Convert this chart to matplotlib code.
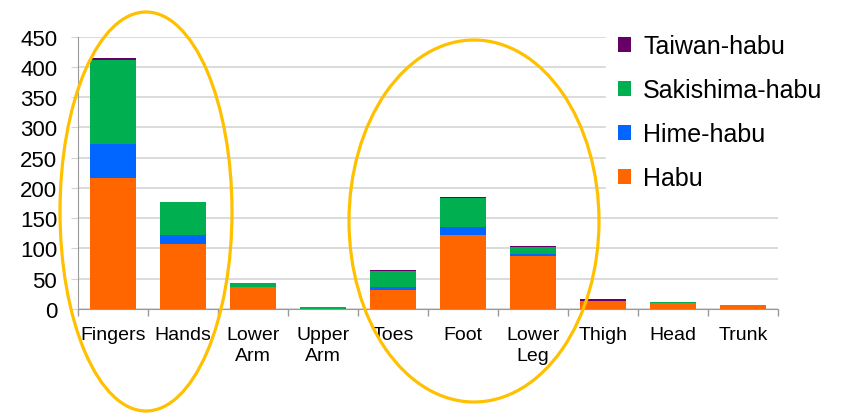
import matplotlib.pyplot as plt
import numpy as np
from matplotlib.patches import Ellipse

plt.rcParams['font.family'] = ['Liberation Sans', 'DejaVu Sans']

# bite sites and counts per snake species
sites = ["Fingers", "Hands", "Lower\nArm", "Upper\nArm", "Toes", "Foot", "Lower\nLeg", "Thigh", "Head", "Trunk"]
habu = [216, 108, 37, 0, 32, 123, 87, 14, 10, 7]
hime = [56, 14, 0, 0, 4, 12, 4, 0, 0, 0]
sakishima = [140, 55, 6, 4, 27, 48, 12, 0, 1, 0]
taiwan = [2, 0, 0, 0, 1, 2, 1, 2, 0, 0]

colors = ["#FF6600", "#0066FF", "#00B050", "#660066"]
names = ["Habu", "Hime-habu", "Sakishima-habu", "Taiwan-habu"]

fig = plt.figure(figsize=(8.45, 4.14), dpi=100)
ax = fig.add_axes([0.0923, 0.2512, 0.8284, 0.6578])

x = np.arange(len(sites))
bottom = np.zeros(len(sites))
handles = []
for vals, c, n in zip([habu, hime, sakishima, taiwan], colors, names):
    b = ax.bar(x, vals, 0.67, bottom=bottom, color=c, label=n, edgecolor="none", zorder=3)
    handles.append(b)
    bottom += np.array(vals)

ax.set_xlim(-0.5, len(sites) - 0.5)
ax.set_ylim(0, 450)
ax.set_yticks(range(0, 451, 50))
ax.yaxis.grid(True, color="#d4d4d4", linewidth=1.2, zorder=0)
ax.tick_params(axis="y", length=5, color="#d4d4d4", labelsize=16, pad=10)

ax.set_xticks(x)
ax.set_xticklabels(sites, fontsize=14, linespacing=1.3)
ax.set_xticks(np.arange(-0.5, len(sites), 1), minor=True)
ax.tick_params(axis="x", which="major", length=0, pad=12)
ax.tick_params(axis="x", which="minor", length=5, color="#999999", width=1)

for s in ["top", "right"]:
    ax.spines[s].set_visible(False)
ax.spines["left"].set_color("#999999")
ax.spines["bottom"].set_color("#999999")

leg = ax.legend(handles[::-1], names[::-1], loc="upper left", bbox_to_anchor=(0.736, 1.1),
                fontsize=18, frameon=True, facecolor="white", edgecolor="white", framealpha=1,
                handlelength=0.5, handleheight=0.5, handletextpad=0.5, labelspacing=0.8,
                borderpad=0.5)
leg.set_zorder(5)

# highlight ellipses
fig.add_artist(Ellipse((146 / 845, 1 - 212.5 / 414), 172 / 845, 399 / 414,
                       transform=fig.transFigure, fill=False, edgecolor="#FFC000", linewidth=2.3, zorder=10))
fig.add_artist(Ellipse((474 / 845, 1 - 222 / 414), 250 / 845, 362 / 414,
                       transform=fig.transFigure, fill=False, edgecolor="#FFC000", linewidth=2.3, zorder=10))

plt.savefig("out.png", dpi=100)
